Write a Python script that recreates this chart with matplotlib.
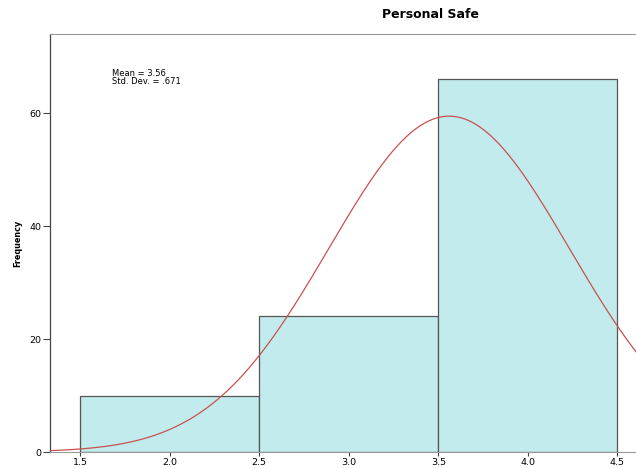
import numpy as np
import matplotlib
matplotlib.use("Agg")
import matplotlib.pyplot as plt

# Histogram of "Personal Safe" responses
bin_edges = [1.5, 2.5, 3.5, 4.5]
counts = [10, 24, 66]
mean_val = 3.56
std_val = 0.671
n_total = 100
x_ticks = [1.5, 2.0, 2.5, 3.0, 3.5, 4.0, 4.5]
y_ticks = [0, 20, 40, 60]

fig = plt.figure(figsize=(6.36, 4.68), dpi=100)
ax = fig.add_axes([50 / 636, 16 / 468, 597 / 636, 418 / 468])

widths = np.diff(bin_edges)
ax.bar(bin_edges[:-1], counts, width=widths, align="edge",
       color="#c2ebed", edgecolor="#555555", linewidth=0.9, zorder=2)

# Normal curve scaled to counts
xs = np.linspace(1.2, 4.8, 400)
bw = widths[0]
ys = n_total * bw / (std_val * np.sqrt(2 * np.pi)) * np.exp(-0.5 * ((xs - mean_val) / std_val) ** 2)
ax.plot(xs, ys, color="#c8524e", linewidth=0.9, zorder=3)

ax.set_xlim(1.332, 4.665)
ax.set_ylim(0, 74)
ax.set_xticks(x_ticks)
ax.set_xticklabels([f"{v:.1f}" for v in x_ticks], fontsize=6.8)
ax.set_yticks(y_ticks)
ax.set_yticklabels([str(v) for v in y_ticks], fontsize=6.8)
ax.tick_params(axis="x", length=3, width=0.8, color="#444444", pad=1)
ax.tick_params(axis="y", length=5, width=0.8, color="#444444", pad=1)

ax.spines["left"].set_color("#444444")
ax.spines["left"].set_linewidth(0.9)
ax.spines["bottom"].set_color("#999999")
ax.spines["top"].set_color("#999999")
ax.spines["right"].set_visible(False)

ax.set_ylabel("Frequency", fontsize=6.5, fontweight="bold", fontstretch="condensed", labelpad=5)

ax.text(0.104, 0.917, f"Mean = {mean_val:.2f}\nStd. Dev. = .{int(round(std_val * 1000))}",
        transform=ax.transAxes, fontsize=6, va="top", ha="left", linespacing=0.95)

fig.text(430 / 636, 1 - 15 / 468, "Personal Safe", fontsize=9, fontweight="bold",
         ha="center", va="center")

fig.savefig("out.png", dpi=100)
